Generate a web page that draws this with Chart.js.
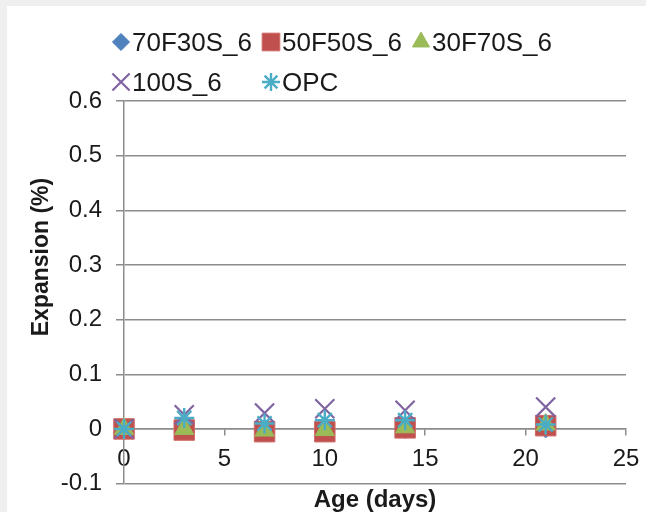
<!DOCTYPE html>
<html>
<head>
<meta charset="utf-8">
<script src="https://cdn.jsdelivr.net/npm/chart.js@4/dist/chart.umd.min.js"></script>
<style>
  html, body { margin: 0; padding: 0; background: #efefef; width: 646px; height: 512px; overflow: hidden; }
  #panel { position: absolute; left: 7px; top: 6px; width: 639px; height: 506px; background: #ffffff; }
  #wrap { position: absolute; left: 0; top: 0; width: 639px; height: 506px; }
  #legend { position: absolute; left: 0; top: 0; width: 639px; height: 100px; font-family: "Liberation Sans", Arial, sans-serif; font-size: 26px; color: #1a1a1a; }
  .item { position: absolute; height: 28px; line-height: 28px; white-space: nowrap; }
  .item canvas { position: absolute; left: 0; top: 2px; }
  .item span { position: absolute; left: 22px; top: 0; }
</style>
</head>
<body>
<div id="panel">
  <div id="wrap"><canvas id="c"></canvas></div>
  <div id="legend"></div>
</div>
<script>
// ---- data ----
const days = [0, 3, 7, 10, 14, 21];
const seriesNames = ["70F30S_6", "50F50S_6", "30F70S_6", "100S_6", "OPC"];
const s70F30S = [0, -0.003, -0.006, -0.004, 0.000, 0.001];
const s50F50S = [0, -0.002, -0.005, -0.005, 0.002, 0.006];
const s30F70S = [0, 0.000, -0.003, -0.002, 0.003, 0.008];
const s100S = [0, 0.026, 0.029, 0.037, 0.034, 0.040];
const sOPC = [0, 0.020, 0.010, 0.016, 0.016, 0.008];
const xTicks = [0, 5, 10, 15, 20, 25];
const yTicks = [-0.1, 0, 0.1, 0.2, 0.3, 0.4, 0.5, 0.6];
const xTitle = "Age (days)";
const yTitle = "Expansion (%)";

// ---- styles ----
const seriesValues = [s70F30S, s50F50S, s30F70S, s100S, sOPC];
const styles = [
  { pointStyle: 'rectRot', color: '#4f81bd', border: '#4f81bd', radius: 9.5, bw: 1 },
  { pointStyle: 'rect', color: '#c0504d', border: '#d06a67', radius: 14.5, bw: 1 },
  { pointStyle: 'triangle', color: '#9bbb59', border: '#9bbb59', radius: 11, bw: 1 },
  { pointStyle: 'crossRot', color: '#8064a2', border: '#8064a2', radius: 13.5, bw: 2.2 },
  { pointStyle: 'star', color: '#4bacc6', border: '#4bacc6', radius: 10, bw: 2.4 }
];

const datasets = seriesNames.map((name, i) => ({
  label: name,
  data: days.map((d, j) => ({ x: d, y: seriesValues[i][j] })),
  showLine: false,
  pointStyle: styles[i].pointStyle,
  pointRadius: styles[i].radius,
  pointHoverRadius: styles[i].radius,
  backgroundColor: styles[i].color,
  borderColor: styles[i].border,
  pointBorderWidth: styles[i].bw,
  borderWidth: styles[i].bw,
  order: seriesNames.length - i,
  clip: false
}));

const gridColor = '#8c8c8c';
const textColor = '#1a1a1a';
const fontFamily = '"Liberation Sans", Arial, sans-serif';

const yTitlePlugin = {
  id: 'yTitlePlugin',
  afterDraw(chart) {
    const ctx = chart.ctx;
    ctx.save();
    ctx.translate(35, 251);
    ctx.rotate(-Math.PI / 2);
    ctx.font = 'bold 23px ' + fontFamily;
    ctx.fillStyle = textColor;
    ctx.textAlign = 'center';
    ctx.textBaseline = 'middle';
    ctx.fillText(yTitle, 0, 0);
    ctx.restore();
  }
};

const canvas = document.getElementById('c');
canvas.width = 639; canvas.height = 506;

new Chart(canvas, {
  type: 'scatter',
  data: { datasets },
  options: {
    responsive: false,
    animation: false,
    events: [],
    layout: { padding: { top: 95, right: 20, bottom: 0, left: 0 } },
    plugins: { legend: { display: false }, tooltip: { enabled: false } },
    scales: {
      x: {
        type: 'linear',
        position: { y: 0 },
        min: 0, max: 25,
        afterBuildTicks: (s) => { s.ticks = xTicks.map(v => ({ value: v })); },
        ticks: { color: textColor, font: { family: fontFamily, size: 24 }, padding: 10, maxRotation: 0 },
        grid: { drawOnChartArea: false, drawTicks: true, tickLength: 6, color: gridColor, lineWidth: 1.5 },
        border: { display: true, color: gridColor, width: 1.5 },
        afterFit: (s) => { s.height = 0; s.paddingRight = 0; s.paddingLeft = 0; }
      },
      x2: {
        type: 'linear',
        axis: 'x',
        position: 'bottom',
        min: 0, max: 25,
        ticks: { display: false },
        grid: { display: false, drawTicks: false },
        border: { display: false },
        title: { display: true, text: xTitle, color: textColor, font: { family: fontFamily, size: 24, weight: 'bold', lineHeight: 1 }, padding: { top: 0, bottom: -3 } },
        afterFit: (s) => { s.height = 26; s.paddingRight = 0; s.paddingLeft = 0; }
      },
      y: {
        type: 'linear',
        min: -0.1, max: 0.6,
        afterBuildTicks: (s) => { s.ticks = yTicks.map(v => ({ value: v })); },
        ticks: { color: textColor, font: { family: fontFamily, size: 24 }, padding: 14,
                 callback: (v) => String(Math.round(v * 10) / 10) },
        grid: { color: gridColor, lineWidth: 1.5, drawTicks: true, tickLength: 8 },
        border: { display: true, color: gridColor, width: 1.5 },
        afterFit: (s) => { s.width = 117; }
      }
    }
  },
  plugins: [yTitlePlugin]
});

// ---- HTML legend (markers drawn with Chart.js helpers) ----
const legendPos = [
  { left: 110, top: 28 }, { left: 260, top: 28 }, { left: 410, top: 28 },
  { left: 110, top: 68 }, { left: 260, top: 68 }
];
const legend = document.getElementById('legend');
seriesNames.forEach((name, i) => {
  const div = document.createElement('div');
  div.className = 'item';
  div.style.left = (legendPos[i].left - 7) + 'px';
  div.style.top = (legendPos[i].top - 6) + 'px';
  const mc = document.createElement('canvas');
  mc.width = 22; mc.height = 24;
  const mctx = mc.getContext('2d');
  mctx.fillStyle = styles[i].color;
  mctx.strokeStyle = styles[i].border;
  mctx.lineWidth = styles[i].bw;
  const r = Math.min(styles[i].radius * 0.9, 12.5);
  if (Chart.helpers && Chart.helpers.drawPoint) {
    Chart.helpers.drawPoint(mctx, { pointStyle: styles[i].pointStyle, radius: r, rotation: 0, borderWidth: styles[i].bw }, 11, 12);
  }
  const sp = document.createElement('span');
  sp.textContent = name;
  div.appendChild(mc);
  div.appendChild(sp);
  legend.appendChild(div);
});
</script>
</body>
</html>
